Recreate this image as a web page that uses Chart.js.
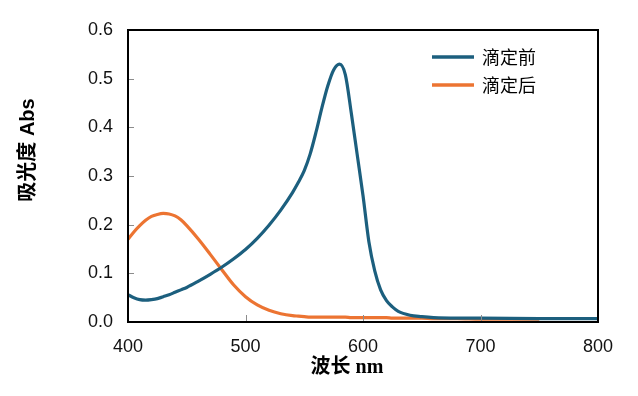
<!DOCTYPE html>
<html>
<head>
<meta charset="utf-8">
<script src="https://cdn.jsdelivr.net/npm/chart.js@4"></script>
<style>
    html, body { margin: 0; padding: 0; background: #fff; }
    #wrap { width: 638px; height: 396px; }
</style>
</head>
<body>
<div id="wrap"><canvas id="chart" width="638" height="396"></canvas></div>
<script>
// Wavelength (nm) and absorbance
const wavelengths = [400, 405, 410, 415, 420, 425, 430, 435, 440, 445, 450, 460, 470, 480, 490, 500,
    510, 520, 530, 540, 545, 550, 555, 560, 565, 570, 575, 580, 585, 590, 595, 600, 605, 610, 615, 620,
    625, 630, 640, 650, 660, 680, 700, 750, 800];
const absBefore = [0.056, 0.050, 0.046, 0.045, 0.046, 0.048, 0.052, 0.056, 0.061, 0.066, 0.071, 0.084, 0.098, 0.113, 0.130, 0.149,
    0.172, 0.199, 0.230, 0.266, 0.287, 0.311, 0.345, 0.390, 0.440, 0.485, 0.518, 0.530, 0.508, 0.430, 0.345, 0.260, 0.165, 0.105, 0.066, 0.044,
    0.031, 0.022, 0.014, 0.011, 0.009, 0.008, 0.008, 0.007, 0.007];
const absAfter = [0.170, 0.185, 0.198, 0.209, 0.217, 0.221, 0.223, 0.222, 0.218, 0.210, 0.198, 0.170, 0.139, 0.107, 0.076, 0.052,
    0.035, 0.024, 0.017, 0.013, 0.012, 0.011, 0.010, 0.010, 0.010, 0.010, 0.010, 0.010, 0.010, 0.009, 0.009, 0.009, 0.009, 0.009, 0.009,
    0.009, 0.008, 0.008, 0.008, 0.008, 0.007, 0.007, 0.006, 0.006];
const seriesNames = ["滴定前", "滴定后"];
const xTicks = [400, 500, 600, 700, 800];
const yTicks = [0, 0.1, 0.2, 0.3, 0.4, 0.5, 0.6];

const BLUE = "#1c5f7e";
const ORANGE = "#ec7432";
const tickFont = { family: "'Liberation Sans', Arial, sans-serif", size: 18 };

const toPoints = (ys) => wavelengths.map((x, i) => ({ x, y: ys[i] }));

// Box around the plot, inward tick marks, axis titles and legend
const framePlugin = {
    id: "frame",
    afterDatasetsDraw(chart) {
        const { ctx, chartArea: a, scales } = chart;
        ctx.save();

        // inward ticks
        ctx.strokeStyle = "#8c8c8c";
        ctx.lineWidth = 1;
        xTicks.slice(1, -1).forEach((v) => {
            const px = Math.round(scales.x.getPixelForValue(v)) + 0.5;
            ctx.beginPath();
            ctx.moveTo(px, a.bottom);
            ctx.lineTo(px, a.bottom - 7);
            ctx.stroke();
        });
        yTicks.slice(1, -1).forEach((v) => {
            const py = Math.round(scales.y.getPixelForValue(v)) + 0.5;
            ctx.beginPath();
            ctx.moveTo(a.left, py);
            ctx.lineTo(a.left + 6, py);
            ctx.stroke();
        });

        // plot border
        ctx.strokeStyle = "#000";
        ctx.lineWidth = 2;
        ctx.strokeRect(a.left, a.top, a.right - a.left, a.bottom - a.top);

        // legend
        const colors = [BLUE, ORANGE];
        ctx.font = "18px 'Noto Sans CJK SC', sans-serif";
        ctx.textBaseline = "middle";
        ctx.textAlign = "left";
        seriesNames.forEach((name, i) => {
            const y = a.top + 27 + i * 28;
            ctx.strokeStyle = colors[i];
            ctx.lineWidth = 3.5;
            ctx.beginPath();
            ctx.moveTo(a.right - 166, y);
            ctx.lineTo(a.right - 124, y);
            ctx.stroke();
            ctx.fillStyle = "#000";
            ctx.fillText(name, a.right - 116, y);
        });

        // axis titles
        ctx.fillStyle = "#000";
        ctx.textAlign = "center";
        ctx.font = "bold 20px 'Liberation Serif', 'Noto Sans CJK SC', serif";
        ctx.fillText("波长 nm", 347, 368);

        ctx.translate(28, 150);
        ctx.rotate(-Math.PI / 2);
        ctx.font = "bold 20px 'Liberation Sans', 'Noto Sans CJK SC', sans-serif";
        ctx.fillText("吸光度 Abs", 0, 0);
        ctx.restore();
    },
};

new Chart(document.getElementById("chart"), {
    type: "line",
    data: {
        datasets: [
            {
                label: seriesNames[0],
                data: toPoints(absBefore),
                borderColor: BLUE,
                borderWidth: 3.2,
                pointRadius: 0,
                cubicInterpolationMode: "monotone",
            },
            {
                label: seriesNames[1],
                data: toPoints(absAfter),
                borderColor: ORANGE,
                borderWidth: 3.2,
                pointRadius: 0,
                cubicInterpolationMode: "monotone",
            },
        ],
    },
    options: {
        responsive: false,
        animation: false,
        layout: { padding: { top: 30, right: 40, bottom: 0, left: 0 } },
        plugins: { legend: { display: false }, tooltip: { enabled: false } },
        scales: {
            x: {
                type: "linear",
                min: xTicks[0],
                max: xTicks[xTicks.length - 1],
                afterBuildTicks: (scale) => { scale.ticks = xTicks.map((v) => ({ value: v })); },
                ticks: { font: tickFont, color: "#111", padding: 14, maxRotation: 0 },
                grid: { drawOnChartArea: false, drawTicks: false },
                border: { display: false },
                afterFit: (scale) => { scale.height = 74; },
            },
            y: {
                min: yTicks[0],
                max: yTicks[yTicks.length - 1],
                afterBuildTicks: (scale) => { scale.ticks = yTicks.map((v) => ({ value: v })); },
                ticks: { font: tickFont, color: "#111", padding: 15, callback: (v) => v.toFixed(1) },
                grid: { drawOnChartArea: false, drawTicks: false },
                border: { display: false },
                afterFit: (scale) => { scale.width = 128; },
            },
        },
    },
    plugins: [framePlugin],
});
</script>
</body>
</html>
